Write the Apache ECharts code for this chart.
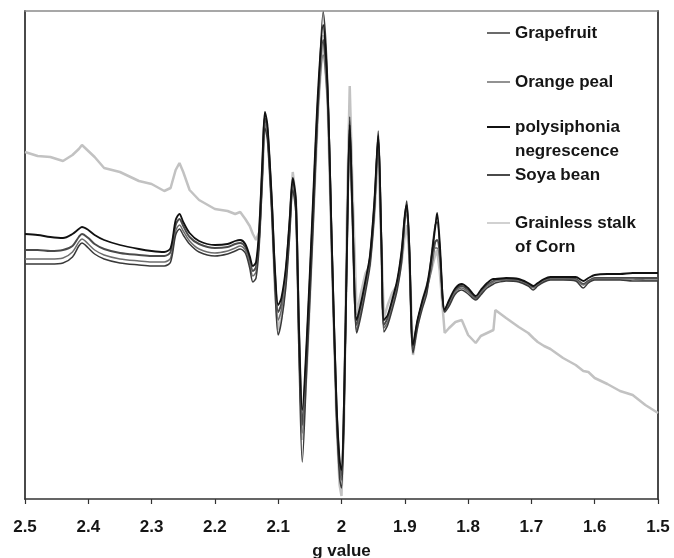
<!DOCTYPE html>
<html>
<head>
<meta charset="utf-8">
<script src="https://cdn.jsdelivr.net/npm/echarts@6/dist/echarts.min.js"></script>
<style>
html,body{margin:0;padding:0;background:#fff;}
#chart{width:674px;height:558px;}
</style>
</head>
<body>
<div id="chart"></div>
<script>
// g values (x axis, reversed)
const gValues = [2.500,2.480,2.460,2.440,2.425,2.415,2.410,2.400,2.390,2.375,
2.350,2.320,2.300,2.280,2.270,2.262,2.256,2.250,2.240,2.225,
2.200,2.180,2.168,2.160,2.152,2.145,2.140,2.135,2.130,2.125,
2.121,2.117,2.110,2.105,2.100,2.095,2.088,2.082,2.077,2.072,
2.067,2.062,2.055,2.045,2.037,2.029,2.022,2.015,2.008,2.003,
2.000,1.996,1.991,1.987,1.983,1.976,1.970,1.962,1.955,1.948,
1.942,1.937,1.933,1.927,1.920,1.912,1.905,1.900,1.897,1.893,
1.887,1.880,1.872,1.865,1.858,1.852,1.849,1.845,1.837,1.830,
1.820,1.810,1.800,1.788,1.780,1.770,1.760,1.757,1.740,1.720,
1.705,1.697,1.690,1.680,1.670,1.650,1.630,1.618,1.610,1.600,
1.580,1.560,1.540,1.520,1.500];

const seriesNames = ['Grapefruit','Orange peal','polysiphonia negrescence','Soya bean','Grainless stalk of Corn'];
const legendLabels = ['Grapefruit','Orange peal','\npolysiphonia\nnegrescence','Soya bean','\nGrainless stalk\nof Corn'];
const tickLabels = ['1.5','1.6','1.7','1.8','1.9','2','2.1','2.2','2.3','2.4','2.5'];

// signal intensity (arbitrary units)
const grapefruit = [5,5,5,6,12,23,26,21,15,10,
6,4,3,3,7,34,40,34,25,17,
13,15,18,20,16,1,-13,-9,23,89,
141,129,54,-21,-66,-53,-19,31,79,54,
-91,-193,-101,39,164,257,189,19,-146,-209,
-219,-151,39,152,69,-64,-49,-23,3,57,
138,29,-63,-56,-41,-21,7,51,68,29,
-84,-59,-39,-24,14,44,47,24,-43,-37,
-25,-21,-25,-31,-26,-19,-15,-14,-12,-13,
-17,-21,-17,-13,-11,-11,-12,-19,-14,-11,
-11,-11,-12,-12,-12];

const orangePeal = [10,10,10,11,17,27,30,25,19,14,
10,8,7,7,11,38,44,38,28,20,
16,18,21,23,19,5,-7,-3,29,95,
146,134,59,-13,-51,-41,-9,39,83,59,
-76,-164,-91,49,159,214,164,7,-141,-201,
-211,-141,27,135,55,-61,-44,-19,7,59,
123,19,-59,-53,-37,-17,11,47,56,14,
-81,-56,-36,-21,-1,21,21,11,-43,-35,
-23,-19,-23,-30,-24,-17,-13,-12,-11,-12,
-16,-19,-16,-12,-10,-10,-11,-16,-13,-10,
-10,-10,-10,-11,-11];

const polysiphonia = [35,34,32,31,35,40,42,39,34,29,
24,20,18,17,21,49,55,47,36,28,
24,25,28,29,25,13,3,7,41,109,
157,144,69,-1,-36,-29,1,49,91,69,
-61,-141,-71,69,179,244,179,19,-131,-191,
-201,-131,34,144,64,-51,-36,-11,14,69,
133,29,-51,-46,-31,-11,19,54,64,24,
-76,-51,-31,-16,11,41,56,29,-41,-31,
-19,-15,-19,-27,-21,-14,-10,-10,-9,-10,
-14,-17,-14,-10,-8,-8,-8,-12,-9,-6,
-5,-5,-4,-4,-4];

const soyaBean = [19,19,18,19,23,32,35,31,25,20,
16,14,13,13,17,44,50,43,32,25,
21,22,25,26,22,9,-2,2,33,101,
151,139,64,-6,-43,-35,-4,44,87,64,
-69,-156,-81,59,169,229,174,14,-136,-196,
-207,-136,31,139,59,-56,-41,-15,11,64,
128,24,-56,-49,-34,-14,15,51,60,19,
-79,-53,-33,-18,4,27,29,17,-41,-33,
-21,-17,-21,-29,-23,-16,-12,-11,-10,-11,
-15,-18,-15,-11,-9,-9,-10,-15,-12,-9,
-9,-9,-9,-9,-9];

const cornStalk = [117,113,112,108,114,120,124,118,112,101,
97,88,85,78,81,99,106,97,79,69,
60,58,55,57,50,43,35,29,37,94,
151,139,59,-21,-61,-49,-11,44,97,69,
-71,-171,-101,44,159,234,169,9,-151,-216,
-227,-151,69,183,89,-46,-26,-4,4,54,
119,24,-49,-36,-24,-16,7,34,44,14,
-86,-56,-31,-16,-1,14,19,-1,-64,-59,
-53,-51,-66,-74,-67,-64,-61,-41,-49,-58,
-64,-69,-73,-77,-80,-89,-96,-102,-103,-109,
-115,-122,-126,-136,-144];

const FONT = '"Liberation Sans", Arial, sans-serif';
const pair = arr => gValues.map((g, i) => [g, arr[i]]);

const chart = echarts.init(document.getElementById('chart'), null, {renderer: 'canvas'});

const seriesDefs = [
  {name: seriesNames[4], data: cornStalk, color: '#c2c2c2', width: 2.5, smooth: false},
  {name: seriesNames[3], data: soyaBean, color: '#4a4a4a', width: 2, smooth: 0.3},
  {name: seriesNames[1], data: orangePeal, color: '#6e6e6e', width: 1.5, smooth: 0.3},
  {name: seriesNames[0], data: grapefruit, color: '#3a3a3a', width: 1.5, smooth: 0.3},
  {name: seriesNames[2], data: polysiphonia, color: '#111111', width: 1.8, smooth: 0.3}
];

const legendTops = [21, 70, 91, 163, 187];
const legends = seriesNames.map((n, i) => ({
  data: [n],
  left: 487,
  top: legendTops[i],
  padding: 0,
  orient: 'vertical',
  icon: 'rect',
  itemWidth: 23,
  itemHeight: i === 2 || i === 3 ? 2 : 1.5,
  selectedMode: false,
  formatter: name => legendLabels[seriesNames.indexOf(name)],
  textStyle: {
    fontFamily: FONT, fontSize: 17, fontWeight: 'bold', color: '#151515',
    lineHeight: 24
  }
}));

const option = {
  animation: false,
  backgroundColor: '#fff',
  grid: {left: 25, right: 16, top: 11, bottom: 59, outerBoundsMode: 'none', containLabel: false},
  legend: legends,
  xAxis: [{
    type: 'value', min: 1.5, max: 2.5, interval: 0.1, inverse: true,
    axisLine: {onZero: false, lineStyle: {color: '#333', width: 1.5}},
    axisTick: {length: 5, lineStyle: {color: '#333', width: 1.2}},
    axisLabel: {
      margin: 20, fontSize: 17, fontWeight: 'bold', color: '#151515', fontFamily: FONT,
      formatter: v => tickLabels[Math.round((v - 1.5) * 10)]
    },
    splitLine: {show: false},
    name: 'g value', nameLocation: 'middle', nameGap: 44,
    nameTextStyle: {fontSize: 17, fontWeight: 'bold', color: '#151515', fontFamily: FONT}
  }, {
    type: 'value', min: 1.5, max: 2.5, inverse: true, position: 'top',
    axisLine: {show: true, onZero: false, lineStyle: {color: '#8a8a8a', width: 1.5}},
    axisTick: {show: false}, axisLabel: {show: false}, splitLine: {show: false}
  }],
  yAxis: [{
    type: 'value', min: -230, max: 258,
    axisLine: {show: true, onZero: false, lineStyle: {color: '#4a4a4a', width: 2}},
    axisTick: {show: false}, axisLabel: {show: false}, splitLine: {show: false}
  }, {
    type: 'value', min: -230, max: 258, position: 'right',
    axisLine: {show: true, onZero: false, lineStyle: {color: '#4a4a4a', width: 2}},
    axisTick: {show: false}, axisLabel: {show: false}, splitLine: {show: false}
  }],
  series: seriesDefs.map(s => ({
    name: s.name, type: 'line', data: pair(s.data), smooth: s.smooth,
    symbol: 'none', showSymbol: false, color: s.color,
    lineStyle: {color: s.color, width: s.width},
    emphasis: {disabled: true}
  }))
};
chart.setOption(option);
</script>
</body>
</html>
